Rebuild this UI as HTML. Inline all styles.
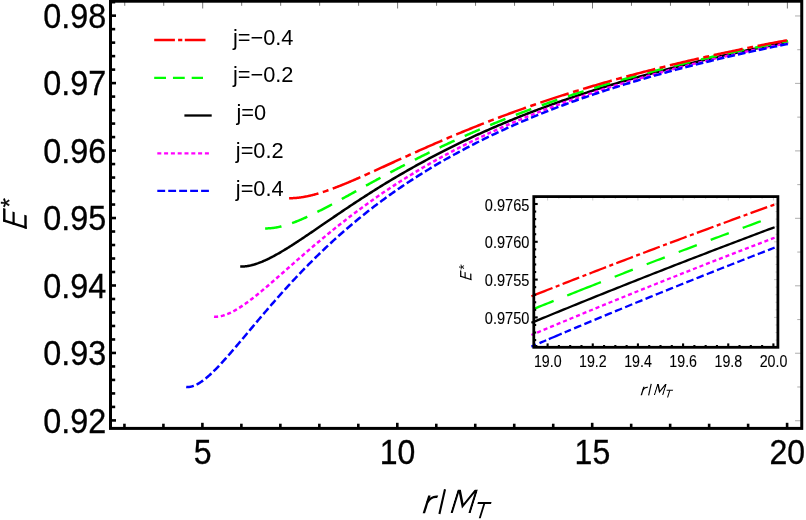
<!DOCTYPE html><html><head><meta charset="utf-8"><style>html,body{margin:0;padding:0;background:#fff}svg{display:block;will-change:transform}text{font-family:"Liberation Sans",sans-serif;fill:#000}</style></head><body>
<svg width="806" height="520" viewBox="0 0 806 520">
<rect width="806" height="520" fill="#fff"/>
<path d="M240.21 266.52 L240.28 266.52 L240.41 266.53 L240.57 266.53 L240.76 266.53 L240.98 266.54 L241.22 266.54 L241.48 266.54 L241.77 266.54 L242.07 266.53 L242.38 266.53 L242.72 266.51 L243.07 266.50 L243.43 266.48 L243.81 266.46 L244.20 266.43 L244.61 266.39 L245.03 266.36 L245.46 266.31 L245.90 266.26 L246.36 266.20 L246.83 266.14 L247.30 266.07 L247.79 265.99 L248.29 265.90 L248.80 265.81 L249.32 265.71 L249.85 265.60 L250.40 265.48 L250.95 265.36 L251.51 265.23 L252.08 265.08 L252.65 264.93 L253.24 264.77 L253.84 264.60 L254.44 264.43 L255.06 264.24 L255.68 264.04 L256.31 263.84 L256.95 263.62 L257.60 263.40 L258.26 263.17 L258.92 262.92 L259.59 262.67 L260.27 262.41 L260.96 262.14 L261.66 261.86 L262.36 261.56 L263.07 261.26 L263.79 260.95 L264.51 260.63 L265.25 260.30 L265.99 259.97 L266.73 259.62 L267.49 259.26 L268.25 258.89 L269.02 258.51 L269.79 258.13 L270.57 257.73 L271.36 257.33 L272.16 256.92 L272.96 256.49 L273.77 256.06 L274.58 255.62 L275.41 255.17 L276.23 254.71 L277.07 254.25 L277.91 253.77 L278.76 253.29 L279.61 252.80 L280.47 252.30 L281.34 251.79 L282.21 251.27 L283.08 250.75 L283.97 250.21 L284.86 249.67 L285.75 249.13 L286.66 248.57 L287.56 248.01 L288.48 247.44 L289.40 246.86 L290.32 246.28 L291.25 245.69 L292.19 245.09 L293.13 244.48 L294.08 243.87 L295.03 243.25 L295.99 242.63 L296.96 242.00 L297.93 241.36 L298.90 240.72 L299.88 240.07 L300.87 239.42 L301.86 238.76 L302.86 238.09 L303.86 237.42 L304.87 236.75 L305.88 236.07 L306.90 235.38 L307.92 234.69 L308.95 233.99 L309.98 233.29 L311.02 232.59 L312.07 231.88 L313.12 231.16 L314.17 230.44 L315.23 229.72 L316.29 228.99 L317.36 228.26 L318.44 227.53 L319.52 226.79 L320.60 226.05 L321.69 225.31 L322.78 224.56 L323.88 223.81 L324.98 223.05 L326.09 222.29 L327.21 221.53 L328.32 220.77 L329.45 220.00 L330.57 219.23 L331.70 218.46 L332.84 217.68 L333.98 216.91 L335.13 216.13 L336.28 215.35 L337.43 214.56 L338.59 213.78 L339.76 212.99 L340.93 212.20 L342.10 211.41 L343.28 210.62 L344.46 209.82 L345.65 209.03 L346.84 208.23 L348.03 207.43 L349.23 206.63 L350.44 205.83 L351.65 205.02 L352.86 204.22 L354.08 203.42 L355.30 202.61 L356.53 201.80 L357.76 201.00 L358.99 200.19 L360.23 199.38 L361.48 198.57 L362.73 197.76 L363.98 196.95 L365.23 196.14 L366.50 195.33 L367.76 194.52 L369.03 193.71 L370.30 192.90 L371.58 192.08 L372.86 191.27 L374.15 190.46 L375.44 189.65 L376.73 188.84 L378.03 188.03 L379.33 187.22 L380.64 186.42 L381.95 185.61 L383.26 184.80 L384.58 184.00 L385.90 183.19 L387.23 182.39 L388.56 181.59 L389.90 180.78 L391.23 179.98 L392.58 179.18 L393.92 178.38 L395.27 177.58 L396.63 176.78 L397.99 175.98 L399.35 175.18 L400.71 174.39 L402.08 173.59 L403.46 172.80 L404.83 172.01 L406.22 171.21 L407.60 170.42 L408.99 169.63 L410.38 168.84 L411.78 168.06 L413.18 167.27 L414.59 166.49 L415.99 165.70 L417.41 164.92 L418.82 164.14 L420.24 163.36 L421.66 162.58 L423.09 161.80 L424.52 161.03 L425.96 160.26 L427.39 159.48 L428.83 158.71 L430.28 157.94 L431.73 157.18 L433.18 156.41 L434.64 155.65 L436.10 154.88 L437.56 154.12 L439.03 153.36 L440.50 152.61 L441.97 151.85 L443.45 151.10 L444.93 150.34 L446.42 149.59 L447.91 148.84 L449.40 148.10 L450.90 147.35 L452.40 146.61 L453.90 145.87 L455.41 145.13 L456.92 144.39 L458.43 143.65 L459.95 142.92 L461.47 142.19 L462.99 141.46 L464.52 140.73 L466.05 140.00 L467.59 139.28 L469.12 138.56 L470.67 137.84 L472.21 137.12 L473.76 136.40 L475.31 135.69 L476.87 134.97 L478.42 134.26 L479.99 133.56 L481.55 132.85 L483.12 132.15 L484.69 131.44 L486.27 130.74 L487.85 130.04 L489.43 129.35 L491.02 128.65 L492.60 127.96 L494.20 127.27 L495.79 126.58 L497.39 125.90 L498.99 125.22 L500.60 124.53 L502.21 123.85 L503.82 123.18 L505.44 122.50 L507.06 121.83 L508.68 121.16 L510.30 120.49 L511.93 119.82 L513.56 119.16 L515.20 118.50 L516.84 117.83 L518.48 117.18 L520.12 116.52 L521.77 115.87 L523.42 115.21 L525.08 114.56 L526.74 113.92 L528.40 113.27 L530.06 112.63 L531.73 111.99 L533.40 111.35 L535.07 110.71 L536.75 110.07 L538.43 109.44 L540.11 108.81 L541.80 108.18 L543.49 107.56 L545.18 106.93 L546.88 106.31 L548.58 105.69 L550.28 105.07 L551.98 104.45 L553.69 103.84 L555.40 103.23 L557.12 102.62 L558.84 102.01 L560.56 101.41 L562.28 100.80 L564.01 100.20 L565.74 99.60 L567.47 99.01 L569.21 98.41 L570.95 97.82 L572.69 97.23 L574.43 96.64 L576.18 96.05 L577.93 95.47 L579.69 94.88 L581.45 94.30 L583.21 93.72 L584.97 93.15 L586.74 92.57 L588.50 92.00 L590.28 91.43 L592.05 90.86 L593.83 90.29 L595.61 89.73 L597.40 89.17 L599.18 88.61 L600.98 88.05 L602.77 87.49 L604.56 86.94 L606.36 86.39 L608.17 85.84 L609.97 85.29 L611.78 84.74 L613.59 84.20 L615.40 83.65 L617.22 83.11 L619.04 82.57 L620.86 82.04 L622.69 81.50 L624.52 80.97 L626.35 80.44 L628.18 79.91 L630.02 79.38 L631.86 78.86 L633.70 78.34 L635.55 77.81 L637.40 77.29 L639.25 76.78 L641.11 76.26 L642.96 75.75 L644.82 75.24 L646.69 74.73 L648.55 74.22 L650.42 73.71 L652.29 73.20 L654.17 72.69 L656.05 72.19 L657.93 71.68 L659.81 71.18 L661.69 70.68 L663.58 70.18 L665.47 69.68 L667.37 69.18 L669.27 68.69 L671.17 68.20 L673.07 67.71 L674.97 67.22 L676.88 66.73 L678.79 66.24 L680.71 65.76 L682.62 65.28 L684.54 64.80 L686.46 64.32 L688.39 63.84 L690.32 63.37 L692.25 62.90 L694.18 62.42 L696.12 61.95 L698.06 61.49 L700.00 61.02 L701.94 60.55 L703.89 60.09 L705.84 59.63 L707.79 59.17 L709.74 58.71 L711.70 58.26 L713.66 57.80 L715.63 57.35 L717.59 56.90 L719.56 56.45 L721.53 56.00 L723.51 55.55 L725.48 55.11 L727.46 54.66 L729.44 54.22 L731.43 53.78 L733.42 53.34 L735.41 52.91 L737.40 52.47 L739.39 52.04 L741.39 51.61 L743.39 51.18 L745.40 50.75 L747.40 50.32 L749.41 49.89 L751.42 49.47 L753.44 49.05 L755.45 48.62 L757.47 48.20 L759.49 47.79 L761.52 47.37 L763.55 46.95 L765.58 46.54 L767.61 46.13 L769.64 45.72 L771.68 45.31 L773.72 44.90 L775.76 44.49 L777.81 44.09 L779.86 43.68 L781.91 43.28 L783.96 42.88 L786.02 42.48 L788.07 42.08" fill="none" stroke="#000000" stroke-width="2.5"/>
<path d="M214.07 316.72 L214.14 316.73 L214.28 316.73 L214.45 316.74 L214.65 316.75 L214.88 316.75 L215.13 316.75 L215.41 316.75 L215.70 316.75 L216.02 316.74 L216.35 316.73 L216.70 316.71 L217.07 316.68 L217.45 316.65 L217.84 316.61 L218.26 316.57 L218.68 316.51 L219.12 316.45 L219.57 316.38 L220.04 316.29 L220.51 316.20 L221.00 316.10 L221.50 315.99 L222.02 315.86 L222.54 315.73 L223.07 315.58 L223.62 315.42 L224.18 315.25 L224.74 315.07 L225.32 314.87 L225.91 314.66 L226.50 314.44 L227.11 314.20 L227.73 313.96 L228.35 313.69 L228.98 313.42 L229.63 313.13 L230.28 312.83 L230.94 312.51 L231.61 312.18 L232.29 311.84 L232.98 311.48 L233.68 311.11 L234.38 310.73 L235.09 310.33 L235.81 309.91 L236.54 309.49 L237.28 309.05 L238.02 308.60 L238.78 308.13 L239.54 307.65 L240.30 307.16 L241.08 306.65 L241.86 306.13 L242.65 305.60 L243.45 305.05 L244.25 304.49 L245.07 303.92 L245.88 303.34 L246.71 302.74 L247.54 302.14 L248.38 301.52 L249.23 300.88 L250.09 300.24 L250.95 299.59 L251.81 298.92 L252.69 298.24 L253.57 297.55 L254.46 296.86 L255.35 296.15 L256.25 295.42 L257.16 294.69 L258.07 293.95 L258.99 293.20 L259.92 292.44 L260.85 291.67 L261.79 290.89 L262.73 290.10 L263.69 289.31 L264.64 288.50 L265.61 287.69 L266.58 286.86 L267.55 286.03 L268.53 285.19 L269.52 284.34 L270.51 283.49 L271.51 282.63 L272.52 281.76 L273.53 280.88 L274.54 280.00 L275.56 279.11 L276.59 278.21 L277.63 277.31 L278.66 276.40 L279.71 275.48 L280.76 274.56 L281.81 273.64 L282.88 272.70 L283.94 271.77 L285.01 270.82 L286.09 269.88 L287.18 268.93 L288.26 267.97 L289.36 267.01 L290.46 266.04 L291.56 265.07 L292.67 264.10 L293.79 263.12 L294.91 262.14 L296.03 261.16 L297.16 260.17 L298.30 259.18 L299.44 258.19 L300.58 257.19 L301.73 256.19 L302.89 255.19 L304.05 254.18 L305.22 253.18 L306.39 252.17 L307.56 251.15 L308.75 250.14 L309.93 249.13 L311.12 248.11 L312.32 247.09 L313.52 246.07 L314.72 245.05 L315.93 244.03 L317.15 243.00 L318.37 241.98 L319.59 240.95 L320.82 239.93 L322.06 238.90 L323.30 237.87 L324.54 236.84 L325.79 235.82 L327.04 234.79 L328.30 233.76 L329.56 232.73 L330.83 231.70 L332.10 230.67 L333.37 229.64 L334.65 228.61 L335.94 227.58 L337.23 226.56 L338.52 225.53 L339.82 224.50 L341.12 223.48 L342.43 222.45 L343.74 221.42 L345.06 220.40 L346.38 219.38 L347.71 218.36 L349.04 217.33 L350.37 216.31 L351.71 215.30 L353.05 214.28 L354.40 213.26 L355.75 212.25 L357.11 211.23 L358.47 210.22 L359.83 209.21 L361.20 208.20 L362.57 207.20 L363.95 206.19 L365.33 205.19 L366.72 204.18 L368.11 203.18 L369.50 202.19 L370.90 201.19 L372.30 200.19 L373.71 199.20 L375.12 198.21 L376.53 197.22 L377.95 196.24 L379.37 195.26 L380.80 194.28 L382.23 193.31 L383.67 192.33 L385.11 191.36 L386.55 190.40 L388.00 189.43 L389.45 188.47 L390.90 187.51 L392.36 186.55 L393.83 185.59 L395.29 184.64 L396.77 183.69 L398.24 182.74 L399.72 181.80 L401.20 180.85 L402.69 179.91 L404.18 178.98 L405.68 178.04 L407.18 177.11 L408.68 176.18 L410.19 175.25 L411.70 174.33 L413.21 173.41 L414.73 172.49 L416.25 171.57 L417.78 170.66 L419.31 169.75 L420.84 168.84 L422.38 167.94 L423.92 167.04 L425.46 166.14 L427.01 165.24 L428.56 164.35 L430.12 163.46 L431.68 162.57 L433.24 161.69 L434.81 160.81 L436.38 159.93 L437.96 159.06 L439.54 158.18 L441.12 157.31 L442.70 156.45 L444.29 155.59 L445.89 154.72 L447.48 153.87 L449.08 153.01 L450.69 152.16 L452.30 151.31 L453.91 150.47 L455.52 149.63 L457.14 148.79 L458.76 147.95 L460.39 147.12 L462.02 146.29 L463.65 145.46 L465.29 144.64 L466.93 143.81 L468.57 143.00 L470.22 142.18 L471.87 141.37 L473.52 140.56 L475.18 139.75 L476.84 138.95 L478.51 138.15 L480.18 137.35 L481.85 136.56 L483.52 135.77 L485.20 134.98 L486.88 134.19 L488.57 133.41 L490.26 132.63 L491.95 131.86 L493.65 131.08 L495.35 130.31 L497.05 129.55 L498.76 128.78 L500.47 128.02 L502.18 127.26 L503.90 126.51 L505.62 125.75 L507.34 125.01 L509.07 124.26 L510.80 123.52 L512.53 122.77 L514.27 122.04 L516.01 121.30 L517.75 120.57 L519.50 119.84 L521.25 119.11 L523.00 118.39 L524.76 117.67 L526.52 116.95 L528.28 116.24 L530.05 115.53 L531.82 114.82 L533.59 114.11 L535.37 113.41 L537.15 112.71 L538.93 112.01 L540.72 111.31 L542.51 110.62 L544.30 109.93 L546.10 109.25 L547.90 108.56 L549.70 107.88 L551.51 107.20 L553.32 106.53 L555.13 105.85 L556.95 105.18 L558.76 104.52 L560.59 103.85 L562.41 103.19 L564.24 102.53 L566.07 101.87 L567.91 101.22 L569.75 100.57 L571.59 99.92 L573.43 99.27 L575.28 98.63 L577.13 97.99 L578.98 97.35 L580.84 96.72 L582.70 96.08 L584.56 95.45 L586.43 94.83 L588.30 94.20 L590.17 93.58 L592.05 92.96 L593.93 92.34 L595.81 91.73 L597.69 91.11 L599.58 90.50 L601.47 89.90 L603.37 89.29 L605.27 88.69 L607.17 88.09 L609.07 87.49 L610.98 86.90 L612.89 86.30 L614.80 85.71 L616.72 85.13 L618.63 84.54 L620.56 83.96 L622.48 83.38 L624.41 82.80 L626.34 82.23 L628.27 81.65 L630.21 81.08 L632.15 80.51 L634.09 79.95 L636.04 79.38 L637.99 78.82 L639.94 78.26 L641.90 77.70 L643.85 77.15 L645.82 76.60 L647.78 76.05 L649.75 75.50 L651.72 74.95 L653.69 74.40 L655.66 73.85 L657.64 73.31 L659.62 72.77 L661.61 72.22 L663.60 71.69 L665.59 71.15 L667.58 70.61 L669.58 70.08 L671.58 69.55 L673.58 69.02 L675.58 68.50 L677.59 67.97 L679.60 67.45 L681.62 66.93 L683.63 66.42 L685.65 65.90 L687.68 65.39 L689.70 64.88 L691.73 64.37 L693.76 63.86 L695.79 63.35 L697.83 62.85 L699.87 62.35 L701.91 61.85 L703.96 61.35 L706.01 60.86 L708.06 60.37 L710.11 59.88 L712.17 59.39 L714.23 58.90 L716.29 58.41 L718.36 57.93 L720.43 57.45 L722.50 56.97 L724.57 56.49 L726.65 56.02 L728.73 55.54 L730.81 55.07 L732.89 54.60 L734.98 54.13 L737.07 53.67 L739.17 53.20 L741.26 52.74 L743.36 52.28 L745.46 51.82 L747.57 51.37 L749.67 50.91 L751.78 50.46 L753.90 50.01 L756.01 49.56 L758.13 49.11 L760.25 48.66 L762.38 48.22 L764.50 47.77 L766.63 47.33 L768.76 46.89 L770.90 46.46 L773.04 46.02 L775.18 45.59 L777.32 45.15 L779.46 44.72 L781.61 44.29 L783.76 43.87 L785.92 43.44 L788.07 43.02" fill="none" stroke="#ff00ff" stroke-width="2.5" stroke-dasharray="4.057 2.705"/>
<path d="M186.20 387.00 L186.27 387.01 L186.41 387.02 L186.59 387.03 L186.80 387.04 L187.04 387.05 L187.31 387.05 L187.60 387.05 L187.91 387.04 L188.24 387.03 L188.59 387.00 L188.95 386.97 L189.34 386.92 L189.74 386.87 L190.15 386.80 L190.58 386.72 L191.03 386.62 L191.49 386.51 L191.96 386.38 L192.45 386.24 L192.95 386.08 L193.46 385.90 L193.99 385.70 L194.53 385.49 L195.08 385.26 L195.64 385.00 L196.21 384.73 L196.79 384.44 L197.39 384.13 L197.99 383.80 L198.61 383.45 L199.23 383.07 L199.87 382.68 L200.51 382.26 L201.17 381.83 L201.83 381.37 L202.51 380.89 L203.19 380.39 L203.89 379.87 L204.59 379.33 L205.30 378.76 L206.02 378.18 L206.75 377.58 L207.49 376.95 L208.24 376.30 L208.99 375.64 L209.76 374.95 L210.53 374.25 L211.31 373.52 L212.10 372.78 L212.90 372.01 L213.70 371.23 L214.51 370.42 L215.34 369.60 L216.16 368.76 L217.00 367.91 L217.84 367.03 L218.70 366.14 L219.55 365.23 L220.42 364.31 L221.29 363.37 L222.18 362.41 L223.06 361.43 L223.96 360.44 L224.86 359.44 L225.77 358.42 L226.69 357.39 L227.61 356.34 L228.54 355.28 L229.48 354.21 L230.43 353.12 L231.38 352.02 L232.33 350.91 L233.30 349.78 L234.27 348.65 L235.25 347.50 L236.23 346.34 L237.22 345.17 L238.22 343.99 L239.22 342.80 L240.23 341.60 L241.25 340.40 L242.27 339.18 L243.30 337.95 L244.34 336.72 L245.38 335.47 L246.43 334.22 L247.48 332.97 L248.54 331.70 L249.60 330.43 L250.68 329.15 L251.75 327.86 L252.84 326.57 L253.93 325.27 L255.02 323.97 L256.12 322.66 L257.23 321.35 L258.34 320.03 L259.46 318.71 L260.59 317.38 L261.72 316.05 L262.85 314.71 L263.99 313.37 L265.14 312.03 L266.29 310.69 L267.45 309.34 L268.61 307.99 L269.78 306.64 L270.96 305.28 L272.14 303.92 L273.32 302.56 L274.51 301.20 L275.71 299.84 L276.91 298.48 L278.12 297.11 L279.33 295.75 L280.55 294.38 L281.77 293.01 L283.00 291.65 L284.23 290.28 L285.47 288.91 L286.71 287.54 L287.96 286.18 L289.21 284.81 L290.47 283.44 L291.74 282.08 L293.01 280.71 L294.28 279.35 L295.56 277.98 L296.84 276.62 L298.13 275.26 L299.43 273.90 L300.72 272.55 L302.03 271.19 L303.34 269.84 L304.65 268.48 L305.97 267.13 L307.29 265.79 L308.62 264.44 L309.95 263.10 L311.29 261.76 L312.64 260.42 L313.98 259.08 L315.33 257.75 L316.69 256.42 L318.05 255.09 L319.42 253.76 L320.79 252.44 L322.17 251.12 L323.55 249.81 L324.93 248.49 L326.32 247.18 L327.72 245.88 L329.11 244.57 L330.52 243.28 L331.93 241.98 L333.34 240.69 L334.76 239.40 L336.18 238.11 L337.60 236.83 L339.03 235.55 L340.47 234.28 L341.91 233.01 L343.35 231.74 L344.80 230.48 L346.25 229.22 L347.71 227.97 L349.17 226.72 L350.64 225.47 L352.11 224.23 L353.58 222.99 L355.06 221.76 L356.55 220.53 L358.03 219.31 L359.53 218.09 L361.02 216.87 L362.52 215.66 L364.03 214.45 L365.54 213.24 L367.05 212.05 L368.57 210.85 L370.09 209.66 L371.62 208.47 L373.15 207.29 L374.68 206.11 L376.22 204.94 L377.76 203.77 L379.31 202.61 L380.86 201.46 L382.42 200.31 L383.98 199.17 L385.54 198.03 L387.11 196.89 L388.68 195.76 L390.25 194.63 L391.83 193.51 L393.42 192.39 L395.01 191.28 L396.60 190.17 L398.19 189.06 L399.79 187.97 L401.40 186.87 L403.01 185.78 L404.62 184.69 L406.23 183.61 L407.85 182.54 L409.48 181.46 L411.10 180.40 L412.74 179.33 L414.37 178.28 L416.01 177.22 L417.66 176.17 L419.30 175.13 L420.95 174.09 L422.61 173.05 L424.27 172.02 L425.93 170.99 L427.60 169.97 L429.27 168.95 L430.94 167.94 L432.62 166.93 L434.30 165.93 L435.99 164.93 L437.68 163.93 L439.37 162.94 L441.07 161.96 L442.77 160.97 L444.48 160.00 L446.18 159.02 L447.90 158.05 L449.61 157.09 L451.33 156.13 L453.06 155.17 L454.78 154.22 L456.51 153.28 L458.25 152.33 L459.99 151.39 L461.73 150.46 L463.47 149.53 L465.22 148.61 L466.98 147.68 L468.73 146.77 L470.49 145.85 L472.26 144.95 L474.03 144.04 L475.80 143.14 L477.57 142.24 L479.35 141.35 L481.13 140.46 L482.92 139.58 L484.71 138.70 L486.50 137.83 L488.30 136.95 L490.10 136.09 L491.90 135.22 L493.71 134.36 L495.52 133.51 L497.33 132.66 L499.15 131.81 L500.97 130.97 L502.80 130.13 L504.62 129.29 L506.46 128.46 L508.29 127.63 L510.13 126.81 L511.97 125.99 L513.82 125.17 L515.67 124.36 L517.52 123.55 L519.38 122.74 L521.24 121.94 L523.10 121.14 L524.96 120.35 L526.83 119.56 L528.71 118.78 L530.59 117.99 L532.47 117.21 L534.35 116.44 L536.24 115.67 L538.13 114.90 L540.02 114.13 L541.92 113.37 L543.82 112.62 L545.72 111.86 L547.63 111.11 L549.54 110.37 L551.45 109.62 L553.37 108.88 L555.29 108.15 L557.22 107.41 L559.14 106.68 L561.07 105.96 L563.01 105.24 L564.95 104.52 L566.89 103.80 L568.83 103.09 L570.78 102.38 L572.73 101.67 L574.68 100.97 L576.64 100.27 L578.60 99.58 L580.56 98.88 L582.53 98.19 L584.50 97.51 L586.47 96.82 L588.45 96.15 L590.43 95.47 L592.41 94.79 L594.40 94.12 L596.39 93.46 L598.38 92.79 L600.38 92.13 L602.38 91.47 L604.38 90.82 L606.38 90.17 L608.39 89.52 L610.41 88.87 L612.42 88.23 L614.44 87.59 L616.46 86.95 L618.49 86.32 L620.51 85.69 L622.54 85.06 L624.58 84.43 L626.62 83.81 L628.66 83.19 L630.70 82.58 L632.75 81.96 L634.80 81.35 L636.85 80.74 L638.91 80.14 L640.97 79.54 L643.03 78.94 L645.09 78.34 L647.16 77.75 L649.23 77.15 L651.31 76.56 L653.39 75.97 L655.47 75.38 L657.55 74.79 L659.64 74.21 L661.73 73.62 L663.82 73.04 L665.92 72.47 L668.02 71.89 L670.12 71.32 L672.23 70.75 L674.34 70.18 L676.45 69.62 L678.56 69.06 L680.68 68.50 L682.80 67.94 L684.92 67.39 L687.05 66.84 L689.18 66.29 L691.31 65.74 L693.45 65.20 L695.59 64.65 L697.73 64.11 L699.87 63.58 L702.02 63.04 L704.17 62.51 L706.33 61.98 L708.48 61.45 L710.64 60.93 L712.81 60.40 L714.97 59.88 L717.14 59.36 L719.31 58.85 L721.49 58.33 L723.66 57.82 L725.84 57.31 L728.03 56.80 L730.21 56.30 L732.40 55.79 L734.59 55.29 L736.79 54.80 L738.99 54.30 L741.19 53.80 L743.39 53.31 L745.60 52.82 L747.81 52.33 L750.02 51.85 L752.24 51.36 L754.46 50.88 L756.68 50.40 L758.90 49.93 L761.13 49.45 L763.36 48.98 L765.59 48.51 L767.83 48.04 L770.06 47.57 L772.31 47.10 L774.55 46.64 L776.80 46.18 L779.05 45.72 L781.30 45.26 L783.55 44.81 L785.81 44.35 L788.07 43.90" fill="none" stroke="#0000ff" stroke-width="2.5" stroke-dasharray="7.75 3.075"/>
<path d="M265.12 228.38 L265.19 228.38 L265.31 228.38 L265.46 228.38 L265.65 228.39 L265.85 228.39 L266.08 228.39 L266.34 228.39 L266.61 228.39 L266.89 228.39 L267.20 228.38 L267.51 228.38 L267.85 228.37 L268.20 228.35 L268.56 228.34 L268.93 228.32 L269.32 228.30 L269.72 228.27 L270.13 228.24 L270.55 228.21 L270.99 228.17 L271.43 228.13 L271.89 228.08 L272.36 228.03 L272.84 227.98 L273.32 227.91 L273.82 227.85 L274.33 227.77 L274.84 227.70 L275.37 227.61 L275.90 227.52 L276.45 227.43 L277.00 227.33 L277.56 227.22 L278.13 227.10 L278.71 226.98 L279.29 226.86 L279.89 226.72 L280.49 226.58 L281.10 226.44 L281.72 226.28 L282.35 226.13 L282.98 225.96 L283.62 225.79 L284.27 225.60 L284.93 225.42 L285.59 225.22 L286.26 225.02 L286.94 224.81 L287.63 224.60 L288.32 224.38 L289.02 224.15 L289.72 223.91 L290.44 223.67 L291.16 223.42 L291.88 223.16 L292.62 222.90 L293.36 222.63 L294.10 222.35 L294.86 222.06 L295.62 221.77 L296.38 221.47 L297.15 221.17 L297.93 220.86 L298.72 220.54 L299.51 220.21 L300.30 219.88 L301.10 219.54 L301.91 219.19 L302.73 218.84 L303.55 218.48 L304.38 218.12 L305.21 217.74 L306.05 217.37 L306.89 216.98 L307.74 216.59 L308.59 216.19 L309.45 215.79 L310.32 215.38 L311.19 214.97 L312.07 214.55 L312.95 214.12 L313.84 213.69 L314.74 213.25 L315.64 212.81 L316.54 212.36 L317.45 211.90 L318.37 211.44 L319.29 210.98 L320.21 210.51 L321.14 210.03 L322.08 209.55 L323.02 209.07 L323.97 208.58 L324.92 208.08 L325.88 207.58 L326.84 207.08 L327.81 206.57 L328.78 206.05 L329.75 205.53 L330.74 205.01 L331.72 204.48 L332.71 203.95 L333.71 203.42 L334.71 202.88 L335.72 202.33 L336.73 201.79 L337.74 201.23 L338.76 200.68 L339.79 200.12 L340.82 199.56 L341.85 198.99 L342.89 198.42 L343.94 197.85 L344.99 197.27 L346.04 196.69 L347.10 196.11 L348.16 195.53 L349.23 194.94 L350.30 194.35 L351.37 193.75 L352.45 193.15 L353.54 192.55 L354.63 191.95 L355.72 191.35 L356.82 190.74 L357.92 190.13 L359.03 189.52 L360.14 188.90 L361.26 188.28 L362.38 187.66 L363.50 187.04 L364.63 186.42 L365.76 185.79 L366.90 185.17 L368.04 184.54 L369.19 183.91 L370.34 183.27 L371.49 182.64 L372.65 182.00 L373.81 181.37 L374.98 180.73 L376.15 180.09 L377.32 179.45 L378.50 178.80 L379.69 178.16 L380.87 177.52 L382.07 176.88 L383.26 176.24 L384.46 175.59 L385.66 174.94 L386.87 174.30 L388.08 173.65 L389.30 173.00 L390.52 172.35 L391.74 171.70 L392.97 171.05 L394.20 170.40 L395.43 169.75 L396.67 169.09 L397.92 168.44 L399.16 167.79 L400.41 167.13 L401.67 166.48 L402.93 165.82 L404.19 165.17 L405.46 164.51 L406.73 163.86 L408.00 163.20 L409.28 162.55 L410.56 161.89 L411.84 161.24 L413.13 160.58 L414.43 159.92 L415.72 159.27 L417.02 158.61 L418.33 157.96 L419.63 157.30 L420.94 156.65 L422.26 155.99 L423.58 155.34 L424.90 154.68 L426.23 154.03 L427.56 153.37 L428.89 152.72 L430.23 152.07 L431.57 151.42 L432.91 150.76 L434.26 150.11 L435.61 149.46 L436.96 148.81 L438.32 148.16 L439.68 147.51 L441.05 146.86 L442.42 146.22 L443.79 145.57 L445.17 144.92 L446.55 144.28 L447.93 143.63 L449.32 142.99 L450.71 142.35 L452.10 141.70 L453.50 141.06 L454.90 140.42 L456.30 139.78 L457.71 139.14 L459.12 138.50 L460.54 137.87 L461.95 137.23 L463.38 136.60 L464.80 135.96 L466.23 135.33 L467.66 134.70 L469.09 134.07 L470.53 133.44 L471.97 132.81 L473.42 132.18 L474.87 131.55 L476.32 130.93 L477.77 130.30 L479.23 129.68 L480.69 129.06 L482.16 128.44 L483.63 127.82 L485.10 127.20 L486.57 126.58 L488.05 125.97 L489.53 125.35 L491.02 124.74 L492.50 124.13 L493.99 123.52 L495.49 122.91 L496.99 122.30 L498.49 121.69 L499.99 121.09 L501.50 120.48 L503.01 119.88 L504.52 119.28 L506.04 118.68 L507.56 118.08 L509.08 117.48 L510.61 116.89 L512.14 116.29 L513.67 115.70 L515.21 115.11 L516.75 114.52 L518.29 113.93 L519.83 113.34 L521.38 112.76 L522.93 112.17 L524.49 111.59 L526.04 111.01 L527.61 110.43 L529.17 109.85 L530.74 109.27 L532.31 108.70 L533.88 108.12 L535.46 107.55 L537.04 106.98 L538.62 106.41 L540.20 105.84 L541.79 105.28 L543.38 104.71 L544.98 104.15 L546.58 103.59 L548.18 103.03 L549.78 102.47 L551.39 101.91 L553.00 101.36 L554.61 100.80 L556.23 100.25 L557.84 99.70 L559.47 99.15 L561.09 98.60 L562.72 98.05 L564.35 97.51 L565.98 96.96 L567.62 96.42 L569.26 95.88 L570.90 95.34 L572.55 94.81 L574.20 94.27 L575.85 93.74 L577.50 93.20 L579.16 92.67 L580.82 92.14 L582.48 91.62 L584.15 91.09 L585.82 90.56 L587.49 90.04 L589.16 89.52 L590.84 89.00 L592.52 88.48 L594.20 87.96 L595.89 87.45 L597.58 86.94 L599.27 86.42 L600.97 85.91 L602.66 85.40 L604.36 84.90 L606.07 84.39 L607.77 83.88 L609.48 83.38 L611.19 82.88 L612.91 82.38 L614.63 81.88 L616.35 81.39 L618.07 80.89 L619.80 80.40 L621.52 79.90 L623.26 79.41 L624.99 78.92 L626.73 78.44 L628.47 77.95 L630.21 77.47 L631.95 76.98 L633.70 76.50 L635.45 76.02 L637.21 75.54 L638.96 75.07 L640.72 74.59 L642.49 74.12 L644.25 73.65 L646.02 73.17 L647.79 72.71 L649.56 72.24 L651.34 71.77 L653.12 71.30 L654.90 70.83 L656.68 70.36 L658.47 69.90 L660.26 69.43 L662.05 68.97 L663.84 68.51 L665.64 68.04 L667.44 67.59 L669.24 67.13 L671.05 66.67 L672.86 66.22 L674.67 65.76 L676.48 65.31 L678.30 64.86 L680.12 64.41 L681.94 63.97 L683.76 63.52 L685.59 63.08 L687.42 62.63 L689.25 62.19 L691.08 61.75 L692.92 61.31 L694.76 60.88 L696.60 60.44 L698.45 60.01 L700.30 59.57 L702.15 59.14 L704.00 58.71 L705.86 58.28 L707.72 57.85 L709.58 57.43 L711.44 57.00 L713.31 56.58 L715.17 56.16 L717.05 55.74 L718.92 55.32 L720.80 54.90 L722.68 54.48 L724.56 54.07 L726.44 53.65 L728.33 53.24 L730.22 52.83 L732.11 52.42 L734.00 52.01 L735.90 51.60 L737.80 51.20 L739.70 50.79 L741.61 50.39 L743.51 49.99 L745.42 49.59 L747.34 49.19 L749.25 48.79 L751.17 48.39 L753.09 48.00 L755.01 47.61 L756.94 47.21 L758.86 46.82 L760.79 46.43 L762.73 46.04 L764.66 45.65 L766.60 45.27 L768.54 44.88 L770.48 44.50 L772.43 44.12 L774.37 43.73 L776.32 43.35 L778.28 42.98 L780.23 42.60 L782.19 42.22 L784.15 41.85 L786.11 41.47 L788.07 41.10" fill="none" stroke="#00ff00" stroke-width="2.5" stroke-dasharray="16.52 11.12"/>
<path d="M289.10 198.17 L289.16 198.17 L289.28 198.17 L289.43 198.17 L289.60 198.17 L289.80 198.18 L290.02 198.18 L290.26 198.18 L290.52 198.18 L290.79 198.18 L291.08 198.17 L291.39 198.17 L291.70 198.16 L292.04 198.15 L292.38 198.14 L292.74 198.13 L293.11 198.12 L293.49 198.10 L293.88 198.08 L294.29 198.06 L294.70 198.03 L295.13 198.00 L295.56 197.97 L296.01 197.93 L296.46 197.89 L296.93 197.85 L297.40 197.81 L297.89 197.75 L298.38 197.70 L298.88 197.64 L299.39 197.58 L299.91 197.51 L300.43 197.44 L300.97 197.37 L301.51 197.29 L302.07 197.20 L302.62 197.12 L303.19 197.02 L303.77 196.92 L304.35 196.82 L304.94 196.71 L305.54 196.60 L306.14 196.48 L306.76 196.36 L307.37 196.23 L308.00 196.10 L308.63 195.96 L309.27 195.82 L309.92 195.67 L310.58 195.52 L311.24 195.36 L311.90 195.19 L312.58 195.02 L313.26 194.85 L313.95 194.67 L314.64 194.48 L315.34 194.29 L316.04 194.10 L316.76 193.90 L317.47 193.69 L318.20 193.48 L318.93 193.26 L319.67 193.04 L320.41 192.81 L321.16 192.58 L321.91 192.34 L322.67 192.10 L323.44 191.85 L324.21 191.60 L324.99 191.34 L325.77 191.08 L326.56 190.81 L327.35 190.53 L328.15 190.25 L328.96 189.97 L329.77 189.68 L330.58 189.39 L331.40 189.09 L332.23 188.79 L333.06 188.48 L333.90 188.16 L334.74 187.85 L335.59 187.52 L336.44 187.20 L337.30 186.87 L338.16 186.53 L339.03 186.19 L339.91 185.84 L340.78 185.49 L341.67 185.14 L342.56 184.78 L343.45 184.42 L344.35 184.05 L345.25 183.68 L346.16 183.30 L347.07 182.92 L347.99 182.54 L348.91 182.15 L349.84 181.76 L350.77 181.36 L351.71 180.97 L352.65 180.56 L353.60 180.16 L354.55 179.74 L355.50 179.33 L356.46 178.91 L357.43 178.49 L358.40 178.07 L359.37 177.64 L360.35 177.21 L361.33 176.77 L362.32 176.33 L363.31 175.89 L364.30 175.45 L365.31 175.00 L366.31 174.55 L367.32 174.10 L368.33 173.64 L369.35 173.18 L370.37 172.72 L371.40 172.25 L372.43 171.79 L373.47 171.32 L374.51 170.84 L375.55 170.37 L376.60 169.89 L377.65 169.41 L378.71 168.93 L379.77 168.45 L380.83 167.96 L381.90 167.48 L382.97 166.99 L384.05 166.50 L385.13 166.00 L386.21 165.51 L387.30 165.01 L388.40 164.51 L389.49 164.01 L390.59 163.51 L391.70 163.01 L392.81 162.50 L393.92 161.99 L395.04 161.48 L396.16 160.97 L397.29 160.46 L398.41 159.94 L399.55 159.43 L400.68 158.91 L401.82 158.39 L402.97 157.87 L404.12 157.35 L405.27 156.83 L406.42 156.30 L407.58 155.78 L408.75 155.25 L409.92 154.72 L411.09 154.20 L412.26 153.67 L413.44 153.14 L414.62 152.60 L415.81 152.07 L417.00 151.54 L418.19 151.00 L419.39 150.47 L420.59 149.93 L421.79 149.40 L423.00 148.86 L424.21 148.32 L425.43 147.78 L426.65 147.24 L427.87 146.70 L429.10 146.16 L430.33 145.62 L431.56 145.08 L432.80 144.54 L434.04 144.00 L435.28 143.46 L436.53 142.91 L437.78 142.37 L439.03 141.83 L440.29 141.28 L441.55 140.74 L442.82 140.20 L444.09 139.65 L445.36 139.11 L446.64 138.56 L447.92 138.02 L449.20 137.47 L450.48 136.93 L451.77 136.38 L453.07 135.84 L454.36 135.29 L455.66 134.75 L456.96 134.21 L458.27 133.66 L459.58 133.12 L460.89 132.57 L462.21 132.03 L463.53 131.49 L464.85 130.94 L466.18 130.40 L467.51 129.86 L468.84 129.31 L470.18 128.77 L471.52 128.23 L472.86 127.69 L474.21 127.15 L475.56 126.61 L476.91 126.07 L478.27 125.53 L479.62 124.99 L480.99 124.45 L482.35 123.91 L483.72 123.37 L485.09 122.83 L486.47 122.30 L487.85 121.76 L489.23 121.22 L490.61 120.69 L492.00 120.15 L493.39 119.62 L494.79 119.09 L496.19 118.55 L497.59 118.02 L498.99 117.49 L500.40 116.96 L501.81 116.43 L503.22 115.90 L504.64 115.37 L506.06 114.84 L507.48 114.31 L508.91 113.79 L510.33 113.26 L511.77 112.74 L513.20 112.21 L514.64 111.69 L516.08 111.17 L517.52 110.65 L518.97 110.13 L520.42 109.61 L521.88 109.09 L523.33 108.57 L524.79 108.05 L526.25 107.54 L527.72 107.02 L529.19 106.51 L530.66 105.99 L532.13 105.48 L533.61 104.97 L535.09 104.46 L536.57 103.95 L538.06 103.44 L539.55 102.93 L541.04 102.42 L542.54 101.92 L544.04 101.41 L545.54 100.91 L547.04 100.41 L548.55 99.90 L550.06 99.40 L551.57 98.90 L553.09 98.41 L554.60 97.91 L556.13 97.41 L557.65 96.92 L559.18 96.42 L560.71 95.93 L562.24 95.43 L563.78 94.94 L565.32 94.45 L566.86 93.96 L568.40 93.48 L569.95 92.99 L571.50 92.50 L573.05 92.02 L574.61 91.53 L576.17 91.05 L577.73 90.57 L579.29 90.09 L580.86 89.61 L582.43 89.13 L584.00 88.66 L585.58 88.18 L587.16 87.71 L588.74 87.23 L590.32 86.76 L591.91 86.29 L593.50 85.82 L595.09 85.35 L596.69 84.88 L598.28 84.42 L599.88 83.95 L601.49 83.49 L603.09 83.02 L604.70 82.56 L606.31 82.10 L607.93 81.64 L609.55 81.18 L611.17 80.72 L612.79 80.27 L614.41 79.81 L616.04 79.36 L617.67 78.91 L619.31 78.45 L620.94 78.00 L622.58 77.56 L624.22 77.11 L625.87 76.66 L627.51 76.22 L629.16 75.77 L630.81 75.33 L632.47 74.89 L634.13 74.44 L635.79 74.01 L637.45 73.57 L639.11 73.13 L640.78 72.69 L642.45 72.26 L644.13 71.82 L645.80 71.39 L647.48 70.96 L649.16 70.53 L650.85 70.10 L652.53 69.67 L654.22 69.24 L655.91 68.80 L657.61 68.37 L659.30 67.95 L661.00 67.52 L662.71 67.09 L664.41 66.67 L666.12 66.24 L667.83 65.82 L669.54 65.40 L671.25 64.98 L672.97 64.56 L674.69 64.14 L676.42 63.72 L678.14 63.31 L679.87 62.89 L681.60 62.48 L683.33 62.07 L685.07 61.65 L686.80 61.24 L688.55 60.84 L690.29 60.43 L692.03 60.02 L693.78 59.62 L695.53 59.21 L697.29 58.81 L699.04 58.41 L700.80 58.00 L702.56 57.61 L704.32 57.21 L706.09 56.81 L707.86 56.41 L709.63 56.02 L711.40 55.62 L713.18 55.23 L714.95 54.84 L716.73 54.45 L718.52 54.06 L720.30 53.67 L722.09 53.28 L723.88 52.90 L725.67 52.51 L727.47 52.13 L729.27 51.74 L731.07 51.36 L732.87 50.98 L734.68 50.60 L736.48 50.22 L738.29 49.85 L740.11 49.47 L741.92 49.09 L743.74 48.72 L745.56 48.35 L747.38 47.98 L749.20 47.60 L751.03 47.23 L752.86 46.87 L754.69 46.50 L756.53 46.13 L758.36 45.77 L760.20 45.40 L762.04 45.04 L763.89 44.68 L765.73 44.32 L767.58 43.96 L769.43 43.60 L771.29 43.24 L773.14 42.88 L775.00 42.53 L776.86 42.17 L778.72 41.82 L780.59 41.46 L782.46 41.11 L784.33 40.76 L786.20 40.41 L788.07 40.06" fill="none" stroke="#ff0000" stroke-width="2.5" stroke-dasharray="29.83 4.575 5.97 4.575"/>
<line x1="124.74" y1="1.20" x2="124.74" y2="5.80" stroke="#555" stroke-width="0.8"/>
<line x1="163.72" y1="1.20" x2="163.72" y2="5.80" stroke="#555" stroke-width="0.8"/>
<line x1="202.70" y1="1.20" x2="202.70" y2="8.50" stroke="#555" stroke-width="0.8"/>
<line x1="241.68" y1="1.20" x2="241.68" y2="5.80" stroke="#555" stroke-width="0.8"/>
<line x1="280.66" y1="1.20" x2="280.66" y2="5.80" stroke="#555" stroke-width="0.8"/>
<line x1="319.64" y1="1.20" x2="319.64" y2="5.80" stroke="#555" stroke-width="0.8"/>
<line x1="358.62" y1="1.20" x2="358.62" y2="5.80" stroke="#555" stroke-width="0.8"/>
<line x1="397.60" y1="1.20" x2="397.60" y2="8.50" stroke="#555" stroke-width="0.8"/>
<line x1="436.58" y1="1.20" x2="436.58" y2="5.80" stroke="#555" stroke-width="0.8"/>
<line x1="475.56" y1="1.20" x2="475.56" y2="5.80" stroke="#555" stroke-width="0.8"/>
<line x1="514.54" y1="1.20" x2="514.54" y2="5.80" stroke="#555" stroke-width="0.8"/>
<line x1="553.52" y1="1.20" x2="553.52" y2="5.80" stroke="#555" stroke-width="0.8"/>
<line x1="592.50" y1="1.20" x2="592.50" y2="8.50" stroke="#555" stroke-width="0.8"/>
<line x1="631.48" y1="1.20" x2="631.48" y2="5.80" stroke="#555" stroke-width="0.8"/>
<line x1="670.46" y1="1.20" x2="670.46" y2="5.80" stroke="#555" stroke-width="0.8"/>
<line x1="709.44" y1="1.20" x2="709.44" y2="5.80" stroke="#555" stroke-width="0.8"/>
<line x1="748.42" y1="1.20" x2="748.42" y2="5.80" stroke="#555" stroke-width="0.8"/>
<line x1="787.40" y1="1.20" x2="787.40" y2="8.50" stroke="#555" stroke-width="0.8"/>
<line x1="795.05" y1="420.71" x2="801.75" y2="420.71" stroke="#b4b4b4" stroke-width="1.1"/>
<line x1="797.25" y1="386.98" x2="801.75" y2="386.98" stroke="#b4b4b4" stroke-width="1.1"/>
<line x1="795.05" y1="353.25" x2="801.75" y2="353.25" stroke="#b4b4b4" stroke-width="1.1"/>
<line x1="797.25" y1="319.52" x2="801.75" y2="319.52" stroke="#b4b4b4" stroke-width="1.1"/>
<line x1="795.05" y1="285.79" x2="801.75" y2="285.79" stroke="#b4b4b4" stroke-width="1.1"/>
<line x1="797.25" y1="252.06" x2="801.75" y2="252.06" stroke="#b4b4b4" stroke-width="1.1"/>
<line x1="795.05" y1="218.33" x2="801.75" y2="218.33" stroke="#b4b4b4" stroke-width="1.1"/>
<line x1="797.25" y1="184.60" x2="801.75" y2="184.60" stroke="#b4b4b4" stroke-width="1.1"/>
<line x1="795.05" y1="150.87" x2="801.75" y2="150.87" stroke="#b4b4b4" stroke-width="1.1"/>
<line x1="797.25" y1="117.14" x2="801.75" y2="117.14" stroke="#b4b4b4" stroke-width="1.1"/>
<line x1="795.05" y1="83.41" x2="801.75" y2="83.41" stroke="#b4b4b4" stroke-width="1.1"/>
<line x1="797.25" y1="49.68" x2="801.75" y2="49.68" stroke="#b4b4b4" stroke-width="1.1"/>
<line x1="795.05" y1="15.95" x2="801.75" y2="15.95" stroke="#b4b4b4" stroke-width="1.1"/>
<line x1="124.44" y1="428.40" x2="124.44" y2="423.70" stroke="#000" stroke-width="2.6"/>
<line x1="163.42" y1="428.40" x2="163.42" y2="423.70" stroke="#000" stroke-width="2.6"/>
<line x1="202.40" y1="428.40" x2="202.40" y2="422.80" stroke="#000" stroke-width="2.6"/>
<line x1="241.38" y1="428.40" x2="241.38" y2="423.70" stroke="#000" stroke-width="2.6"/>
<line x1="280.36" y1="428.40" x2="280.36" y2="423.70" stroke="#000" stroke-width="2.6"/>
<line x1="319.34" y1="428.40" x2="319.34" y2="423.70" stroke="#000" stroke-width="2.6"/>
<line x1="358.32" y1="428.40" x2="358.32" y2="423.70" stroke="#000" stroke-width="2.6"/>
<line x1="397.30" y1="428.40" x2="397.30" y2="422.80" stroke="#000" stroke-width="2.6"/>
<line x1="436.28" y1="428.40" x2="436.28" y2="423.70" stroke="#000" stroke-width="2.6"/>
<line x1="475.26" y1="428.40" x2="475.26" y2="423.70" stroke="#000" stroke-width="2.6"/>
<line x1="514.24" y1="428.40" x2="514.24" y2="423.70" stroke="#000" stroke-width="2.6"/>
<line x1="553.22" y1="428.40" x2="553.22" y2="423.70" stroke="#000" stroke-width="2.6"/>
<line x1="592.20" y1="428.40" x2="592.20" y2="422.80" stroke="#000" stroke-width="2.6"/>
<line x1="631.18" y1="428.40" x2="631.18" y2="423.70" stroke="#000" stroke-width="2.6"/>
<line x1="670.16" y1="428.40" x2="670.16" y2="423.70" stroke="#000" stroke-width="2.6"/>
<line x1="709.14" y1="428.40" x2="709.14" y2="423.70" stroke="#000" stroke-width="2.6"/>
<line x1="748.12" y1="428.40" x2="748.12" y2="423.70" stroke="#000" stroke-width="2.6"/>
<line x1="787.10" y1="428.40" x2="787.10" y2="422.80" stroke="#000" stroke-width="2.6"/>
<line x1="110.50" y1="420.41" x2="116.00" y2="420.41" stroke="#000" stroke-width="2.6"/>
<line x1="110.50" y1="406.92" x2="115.20" y2="406.92" stroke="#000" stroke-width="2.6"/>
<line x1="110.50" y1="393.43" x2="115.20" y2="393.43" stroke="#000" stroke-width="2.6"/>
<line x1="110.50" y1="379.93" x2="115.20" y2="379.93" stroke="#000" stroke-width="2.6"/>
<line x1="110.50" y1="366.44" x2="115.20" y2="366.44" stroke="#000" stroke-width="2.6"/>
<line x1="110.50" y1="352.95" x2="116.00" y2="352.95" stroke="#000" stroke-width="2.6"/>
<line x1="110.50" y1="339.46" x2="115.20" y2="339.46" stroke="#000" stroke-width="2.6"/>
<line x1="110.50" y1="325.97" x2="115.20" y2="325.97" stroke="#000" stroke-width="2.6"/>
<line x1="110.50" y1="312.47" x2="115.20" y2="312.47" stroke="#000" stroke-width="2.6"/>
<line x1="110.50" y1="298.98" x2="115.20" y2="298.98" stroke="#000" stroke-width="2.6"/>
<line x1="110.50" y1="285.49" x2="116.00" y2="285.49" stroke="#000" stroke-width="2.6"/>
<line x1="110.50" y1="272.00" x2="115.20" y2="272.00" stroke="#000" stroke-width="2.6"/>
<line x1="110.50" y1="258.51" x2="115.20" y2="258.51" stroke="#000" stroke-width="2.6"/>
<line x1="110.50" y1="245.01" x2="115.20" y2="245.01" stroke="#000" stroke-width="2.6"/>
<line x1="110.50" y1="231.52" x2="115.20" y2="231.52" stroke="#000" stroke-width="2.6"/>
<line x1="110.50" y1="218.03" x2="116.00" y2="218.03" stroke="#000" stroke-width="2.6"/>
<line x1="110.50" y1="204.54" x2="115.20" y2="204.54" stroke="#000" stroke-width="2.6"/>
<line x1="110.50" y1="191.05" x2="115.20" y2="191.05" stroke="#000" stroke-width="2.6"/>
<line x1="110.50" y1="177.55" x2="115.20" y2="177.55" stroke="#000" stroke-width="2.6"/>
<line x1="110.50" y1="164.06" x2="115.20" y2="164.06" stroke="#000" stroke-width="2.6"/>
<line x1="110.50" y1="150.57" x2="116.00" y2="150.57" stroke="#000" stroke-width="2.6"/>
<line x1="110.50" y1="137.08" x2="115.20" y2="137.08" stroke="#000" stroke-width="2.6"/>
<line x1="110.50" y1="123.59" x2="115.20" y2="123.59" stroke="#000" stroke-width="2.6"/>
<line x1="110.50" y1="110.09" x2="115.20" y2="110.09" stroke="#000" stroke-width="2.6"/>
<line x1="110.50" y1="96.60" x2="115.20" y2="96.60" stroke="#000" stroke-width="2.6"/>
<line x1="110.50" y1="83.11" x2="116.00" y2="83.11" stroke="#000" stroke-width="2.6"/>
<line x1="110.50" y1="69.62" x2="115.20" y2="69.62" stroke="#000" stroke-width="2.6"/>
<line x1="110.50" y1="56.13" x2="115.20" y2="56.13" stroke="#000" stroke-width="2.6"/>
<line x1="110.50" y1="42.63" x2="115.20" y2="42.63" stroke="#000" stroke-width="2.6"/>
<line x1="110.50" y1="29.14" x2="115.20" y2="29.14" stroke="#000" stroke-width="2.6"/>
<line x1="110.50" y1="15.65" x2="116.00" y2="15.65" stroke="#000" stroke-width="2.6"/>
<line x1="110.50" y1="2.16" x2="115.20" y2="2.16" stroke="#000" stroke-width="2.6"/>
<rect x="110.50" y="1.20" width="691.25" height="427.20" fill="none" stroke="#000" stroke-width="3.00"/>
<text transform="translate(106.3,432.61) scale(0.92,1)" font-size="35.2" text-anchor="end" stroke="#000" stroke-width="0.3">0.92</text>
<text transform="translate(106.3,365.15) scale(0.92,1)" font-size="35.2" text-anchor="end" stroke="#000" stroke-width="0.3">0.93</text>
<text transform="translate(106.3,297.69) scale(0.92,1)" font-size="35.2" text-anchor="end" stroke="#000" stroke-width="0.3">0.94</text>
<text transform="translate(106.3,230.23) scale(0.92,1)" font-size="35.2" text-anchor="end" stroke="#000" stroke-width="0.3">0.95</text>
<text transform="translate(106.3,162.77) scale(0.92,1)" font-size="35.2" text-anchor="end" stroke="#000" stroke-width="0.3">0.96</text>
<text transform="translate(106.3,95.31) scale(0.92,1)" font-size="35.2" text-anchor="end" stroke="#000" stroke-width="0.3">0.97</text>
<text transform="translate(106.3,27.85) scale(0.92,1)" font-size="35.2" text-anchor="end" stroke="#000" stroke-width="0.3">0.98</text>
<text transform="translate(202.60,464.2) scale(0.91,1)" font-size="35.2" text-anchor="middle" stroke="#000" stroke-width="0.3">5</text>
<text transform="translate(397.50,464.2) scale(0.91,1)" font-size="35.2" text-anchor="middle" stroke="#000" stroke-width="0.3">10</text>
<text transform="translate(592.40,464.2) scale(0.91,1)" font-size="35.2" text-anchor="middle" stroke="#000" stroke-width="0.3">15</text>
<text transform="translate(787.30,464.2) scale(0.91,1)" font-size="35.2" text-anchor="middle" stroke="#000" stroke-width="0.3">20</text>
<g transform="translate(422.80,512.90) scale(1.000)" fill="none" stroke="#000" stroke-width="2.40" stroke-linejoin="miter" stroke-miterlimit="10"><g transform="skewX(-17.2)"><path d="M1.2 0.4 L1.2 -17.5"/><path d="M1.3 -10.5 C2.3 -14.3 5.2 -16.7 9.9 -16.1" stroke-width="2.50"/><clipPath id="mc1000"><rect x="27.60" y="-23.20" width="20.40" height="23.20"/></clipPath><path clip-path="url(#mc1000)" d="M28.80 0 L28.80 -24.70 L37.80 -6.96 L46.80 -24.70 L46.80 0" stroke-width="2.30"/><path d="M58.6 5.3 L58.6 -10.0" stroke-width="1.90"/><path d="M51.8 -9.9 L65.4 -9.9" stroke-width="1.80"/></g><path d="M16.6 1.0 L22.2 -23.7" stroke-width="2.10"/></g>
<g transform="translate(26.70,228.90) rotate(-90) scale(1.000) skewX(-17.5)" fill="none" stroke="#000" stroke-width="2.40"><path d="M1.2 0 L1.2 -23.60"/><path d="M0 -1.2 L13.4 -1.2"/><path d="M0 -13.10 L12.8 -13.10" stroke-width="2.20"/><path d="M0 -22.40 L13.4 -22.40"/></g>
<g transform="translate(17.8,207.4) rotate(-90)"><text x="0" y="0" font-size="24" stroke="#000" stroke-width="0.3">*</text></g>
<line x1="154.20" y1="40.00" x2="205.60" y2="40.00" stroke="#ff0000" stroke-width="2.3" stroke-dasharray="20.7 3.2 4.2 2.5"/>
<text x="232.90" y="45.20" font-size="21.8">j=−0.4</text>
<line x1="154.20" y1="77.90" x2="203.00" y2="77.90" stroke="#00ff00" stroke-width="2.3" stroke-dasharray="11.8 6.95"/>
<text x="232.90" y="82.30" font-size="21.8">j=−0.2</text>
<line x1="184.40" y1="115.50" x2="211.70" y2="115.50" stroke="#000000" stroke-width="2.3"/>
<text x="236.40" y="120.00" font-size="21.8">j=0</text>
<line x1="157.30" y1="153.30" x2="208.90" y2="153.30" stroke="#ff00ff" stroke-width="2.3" stroke-dasharray="4 2.8"/>
<text x="235.80" y="157.50" font-size="21.8">j=0.2</text>
<line x1="157.30" y1="190.90" x2="208.90" y2="190.90" stroke="#0000ff" stroke-width="2.3" stroke-dasharray="7.85 3.1"/>
<text x="235.80" y="195.50" font-size="21.8">j=0.4</text>
<rect x="533.80" y="196.60" width="244.10" height="150.70" fill="#fff"/>
<path d="M531.40 346.57 L533.70 345.59 L536.00 344.60 M539.50 343.11 L541.73 342.15 L543.97 341.20 L546.20 340.25 M548.80 339.14 L551.38 338.05 L553.96 336.95 L556.54 335.86 L559.12 334.76 L561.70 333.67 M564.70 332.40 L566.77 331.53 L568.83 330.66 L570.90 329.79 M574.15 328.42 L576.52 327.42 L578.88 326.43 L581.25 325.44 M584.35 324.14 L586.72 323.15 L589.08 322.16 L591.45 321.17 M594.55 319.87 L596.92 318.89 L599.28 317.90 L601.65 316.92 M604.75 315.63 L607.12 314.65 L609.48 313.67 L611.85 312.69 M614.95 311.41 L617.32 310.43 L619.68 309.45 L622.05 308.48 M625.15 307.20 L627.52 306.23 L629.88 305.26 L632.25 304.28 M635.35 303.01 L637.72 302.04 L640.08 301.08 L642.45 300.11 M645.55 298.84 L647.92 297.88 L650.28 296.92 L652.65 295.95 M655.75 294.69 L658.12 293.73 L660.48 292.77 L662.85 291.82 M665.95 290.56 L668.32 289.61 L670.68 288.65 L673.05 287.70 M676.15 286.45 L678.52 285.50 L680.88 284.54 L683.25 283.59 M686.35 282.35 L688.72 281.40 L691.08 280.46 L693.45 279.51 M696.55 278.27 L698.92 277.33 L701.28 276.39 L703.65 275.44 M706.75 274.21 L709.12 273.27 L711.48 272.33 L713.85 271.40 M716.95 270.17 L719.32 269.23 L721.68 268.30 L724.05 267.36 M727.15 266.14 L729.52 265.21 L731.88 264.28 L734.25 263.35 M737.35 262.13 L739.72 261.21 L742.08 260.28 L744.45 259.35 M747.55 258.14 L749.92 257.22 L752.28 256.30 L754.65 255.38 M757.75 254.17 L760.12 253.25 L762.48 252.33 L764.85 251.41 M767.95 250.21 L770.17 249.36 L772.38 248.50 L774.60 247.64" fill="none" stroke="#0000ff" stroke-width="2.3"/>
<path d="M531.40 335.02 L532.90 334.39 L534.40 333.76 M537.10 332.63 L539.00 331.83 L540.89 331.03 M543.59 329.90 L545.49 329.11 L547.39 328.31 M550.09 327.18 L551.99 326.39 L553.88 325.60 M556.58 324.47 L558.48 323.68 L560.38 322.89 M563.08 321.77 L564.98 320.98 L566.88 320.19 M569.57 319.07 L571.47 318.29 L573.37 317.50 M576.07 316.39 L577.97 315.60 L579.87 314.82 M582.56 313.71 L584.46 312.92 L586.36 312.14 M589.06 311.03 L590.96 310.25 L592.86 309.47 M595.55 308.37 L597.45 307.59 L599.35 306.81 M602.05 305.71 L603.95 304.93 L605.85 304.16 M608.54 303.06 L610.44 302.28 L612.34 301.51 M615.04 300.42 L616.94 299.64 L618.84 298.87 M621.53 297.78 L623.43 297.01 L625.33 296.24 M628.03 295.15 L629.93 294.38 L631.83 293.62 M634.52 292.53 L636.42 291.76 L638.32 291.00 M641.02 289.92 L642.92 289.15 L644.82 288.39 M647.51 287.31 L649.41 286.55 L651.31 285.79 M654.01 284.71 L655.91 283.95 L657.81 283.19 M660.50 282.12 L662.40 281.36 L664.30 280.60 M667.00 279.53 L668.90 278.78 L670.80 278.02 M673.49 276.95 L675.39 276.20 L677.29 275.45 M679.99 274.38 L681.89 273.63 L683.79 272.88 M686.48 271.82 L688.38 271.07 L690.28 270.32 M692.98 269.26 L694.88 268.51 L696.78 267.77 M699.47 266.71 L701.37 265.96 L703.27 265.22 M705.97 264.16 L707.87 263.42 L709.77 262.68 M712.46 261.63 L714.36 260.89 L716.26 260.15 M718.96 259.10 L720.86 258.36 L722.76 257.62 M725.45 256.58 L727.35 255.84 L729.25 255.10 M731.95 254.06 L733.85 253.33 L735.75 252.59 M738.44 251.55 L740.34 250.82 L742.24 250.09 M744.94 249.05 L746.84 248.32 L748.74 247.59 M751.43 246.55 L753.33 245.82 L755.23 245.10 M757.93 244.06 L759.83 243.34 L761.73 242.61 M764.42 241.58 L766.32 240.86 L768.22 240.13 M770.92 239.11 L772.76 238.41 L774.60 237.71" fill="none" stroke="#ff00ff" stroke-width="2.3"/>
<path d="M531.40 322.80 L534.37 321.57 L537.33 320.35 L540.30 319.13 L543.26 317.91 L546.23 316.69 L549.20 315.47 L552.16 314.25 L555.13 313.04 L558.09 311.83 L561.06 310.61 L564.02 309.40 L566.99 308.20 L569.96 306.99 L572.92 305.78 L575.89 304.58 L578.85 303.38 L581.82 302.18 L584.79 300.98 L587.75 299.78 L590.72 298.58 L593.68 297.39 L596.65 296.19 L599.61 295.00 L602.58 293.81 L605.55 292.62 L608.51 291.43 L611.48 290.25 L614.44 289.06 L617.41 287.88 L620.38 286.70 L623.34 285.52 L626.31 284.34 L629.27 283.16 L632.24 281.99 L635.20 280.81 L638.17 279.64 L641.14 278.47 L644.10 277.30 L647.07 276.13 L650.03 274.96 L653.00 273.80 L655.97 272.63 L658.93 271.47 L661.90 270.31 L664.86 269.15 L667.83 267.99 L670.80 266.83 L673.76 265.68 L676.73 264.52 L679.69 263.37 L682.66 262.22 L685.62 261.07 L688.59 259.92 L691.56 258.77 L694.52 257.63 L697.49 256.48 L700.45 255.34 L703.42 254.20 L706.39 253.06 L709.35 251.92 L712.32 250.78 L715.28 249.64 L718.25 248.51 L721.21 247.38 L724.18 246.24 L727.15 245.11 L730.11 243.98 L733.08 242.86 L736.04 241.73 L739.01 240.60 L741.98 239.48 L744.94 238.36 L747.91 237.24 L750.87 236.12 L753.84 235.00 L756.80 233.88 L759.77 232.77 L762.74 231.65 L765.70 230.54 L768.67 229.43 L771.63 228.32 L774.60 227.21" fill="none" stroke="#000000" stroke-width="2.3"/>
<path d="M533.60 309.00 L536.46 307.84 L539.31 306.69 L542.17 305.54 L545.03 304.38 L547.89 303.23 L550.74 302.09 L553.60 300.94 M567.20 295.50 L570.01 294.38 L572.82 293.26 L575.62 292.14 L578.43 291.03 L581.24 289.91 L584.05 288.80 L586.86 287.69 L589.67 286.57 L592.48 285.47 L595.28 284.36 L598.09 283.25 L600.90 282.14 M614.70 276.73 L617.29 275.72 L619.87 274.71 L622.46 273.70 L625.04 272.69 L627.63 271.68 L630.21 270.68 L632.80 269.67 M646.70 264.29 L649.29 263.29 L651.87 262.29 L654.46 261.30 L657.04 260.30 L659.63 259.31 L662.21 258.32 L664.80 257.32 M678.70 252.01 L681.29 251.03 L683.87 250.04 L686.46 249.06 L689.04 248.08 L691.63 247.09 L694.21 246.11 L696.80 245.14 M710.70 239.89 L713.29 238.92 L715.87 237.95 L718.46 236.97 L721.04 236.01 L723.63 235.04 L726.21 234.07 L728.80 233.10 M742.70 227.92 L745.29 226.96 L747.87 226.00 L750.46 225.05 L753.04 224.09 L755.63 223.13 L758.21 222.18 L760.80 221.22" fill="none" stroke="#00ff00" stroke-width="2.3"/>
<path d="M531.40 296.28 L534.04 295.24 L536.67 294.19 L539.31 293.15 L541.95 292.11 L544.59 291.07 L547.23 290.03 L549.86 289.00 L552.50 287.96 M555.70 286.71 L557.60 285.96 L559.50 285.22 M562.60 284.00 L565.37 282.92 L568.13 281.84 L570.90 280.76 L573.67 279.69 L576.43 278.61 L579.20 277.53 M582.50 276.25 L584.40 275.52 L586.30 274.78 M589.45 273.56 L592.22 272.49 L594.98 271.42 L597.75 270.36 L600.52 269.29 L603.28 268.23 L606.05 267.16 M609.35 265.90 L611.25 265.17 L613.15 264.44 M616.30 263.23 L619.07 262.17 L621.83 261.12 L624.60 260.06 L627.37 259.01 L630.13 257.95 L632.90 256.90 M636.20 255.65 L638.10 254.93 L640.00 254.20 M643.15 253.01 L645.92 251.96 L648.68 250.92 L651.45 249.87 L654.22 248.83 L656.98 247.79 L659.75 246.75 M663.05 245.51 L664.95 244.79 L666.85 244.08 M670.00 242.90 L672.77 241.86 L675.53 240.83 L678.30 239.80 L681.07 238.76 L683.83 237.73 L686.60 236.70 M689.90 235.47 L691.80 234.77 L693.70 234.06 M696.85 232.89 L699.62 231.87 L702.38 230.85 L705.15 229.82 L707.92 228.80 L710.68 227.78 L713.45 226.76 M716.75 225.55 L718.65 224.85 L720.55 224.15 M723.70 222.99 L726.47 221.98 L729.23 220.97 L732.00 219.95 L734.77 218.94 L737.53 217.93 L740.30 216.92 M743.60 215.72 L745.50 215.03 L747.40 214.34 M750.55 213.20 L753.32 212.19 L756.08 211.19 L758.85 210.19 L761.62 209.19 L764.38 208.19 L767.15 207.19 M770.45 206.00 L772.35 205.32 L774.25 204.63" fill="none" stroke="#ff0000" stroke-width="2.3"/>
<line x1="533.80" y1="340.08" x2="536.20" y2="340.08" stroke="#000" stroke-width="2.1"/>
<line x1="775.50" y1="340.08" x2="777.90" y2="340.08" stroke="#999" stroke-width="0.5"/>
<line x1="533.80" y1="332.52" x2="536.20" y2="332.52" stroke="#000" stroke-width="2.1"/>
<line x1="775.50" y1="332.52" x2="777.90" y2="332.52" stroke="#999" stroke-width="0.5"/>
<line x1="533.80" y1="324.96" x2="536.20" y2="324.96" stroke="#000" stroke-width="2.1"/>
<line x1="775.50" y1="324.96" x2="777.90" y2="324.96" stroke="#999" stroke-width="0.5"/>
<line x1="533.80" y1="317.40" x2="537.70" y2="317.40" stroke="#000" stroke-width="2.1"/>
<line x1="774.00" y1="317.40" x2="777.90" y2="317.40" stroke="#999" stroke-width="0.5"/>
<line x1="533.80" y1="309.84" x2="536.20" y2="309.84" stroke="#000" stroke-width="2.1"/>
<line x1="775.50" y1="309.84" x2="777.90" y2="309.84" stroke="#999" stroke-width="0.5"/>
<line x1="533.80" y1="302.28" x2="536.20" y2="302.28" stroke="#000" stroke-width="2.1"/>
<line x1="775.50" y1="302.28" x2="777.90" y2="302.28" stroke="#999" stroke-width="0.5"/>
<line x1="533.80" y1="294.72" x2="536.20" y2="294.72" stroke="#000" stroke-width="2.1"/>
<line x1="775.50" y1="294.72" x2="777.90" y2="294.72" stroke="#999" stroke-width="0.5"/>
<line x1="533.80" y1="287.16" x2="536.20" y2="287.16" stroke="#000" stroke-width="2.1"/>
<line x1="775.50" y1="287.16" x2="777.90" y2="287.16" stroke="#999" stroke-width="0.5"/>
<line x1="533.80" y1="279.60" x2="537.70" y2="279.60" stroke="#000" stroke-width="2.1"/>
<line x1="774.00" y1="279.60" x2="777.90" y2="279.60" stroke="#999" stroke-width="0.5"/>
<line x1="533.80" y1="272.04" x2="536.20" y2="272.04" stroke="#000" stroke-width="2.1"/>
<line x1="775.50" y1="272.04" x2="777.90" y2="272.04" stroke="#999" stroke-width="0.5"/>
<line x1="533.80" y1="264.48" x2="536.20" y2="264.48" stroke="#000" stroke-width="2.1"/>
<line x1="775.50" y1="264.48" x2="777.90" y2="264.48" stroke="#999" stroke-width="0.5"/>
<line x1="533.80" y1="256.92" x2="536.20" y2="256.92" stroke="#000" stroke-width="2.1"/>
<line x1="775.50" y1="256.92" x2="777.90" y2="256.92" stroke="#999" stroke-width="0.5"/>
<line x1="533.80" y1="249.36" x2="536.20" y2="249.36" stroke="#000" stroke-width="2.1"/>
<line x1="775.50" y1="249.36" x2="777.90" y2="249.36" stroke="#999" stroke-width="0.5"/>
<line x1="533.80" y1="241.80" x2="537.70" y2="241.80" stroke="#000" stroke-width="2.1"/>
<line x1="774.00" y1="241.80" x2="777.90" y2="241.80" stroke="#999" stroke-width="0.5"/>
<line x1="533.80" y1="234.24" x2="536.20" y2="234.24" stroke="#000" stroke-width="2.1"/>
<line x1="775.50" y1="234.24" x2="777.90" y2="234.24" stroke="#999" stroke-width="0.5"/>
<line x1="533.80" y1="226.68" x2="536.20" y2="226.68" stroke="#000" stroke-width="2.1"/>
<line x1="775.50" y1="226.68" x2="777.90" y2="226.68" stroke="#999" stroke-width="0.5"/>
<line x1="533.80" y1="219.12" x2="536.20" y2="219.12" stroke="#000" stroke-width="2.1"/>
<line x1="775.50" y1="219.12" x2="777.90" y2="219.12" stroke="#999" stroke-width="0.5"/>
<line x1="533.80" y1="211.56" x2="536.20" y2="211.56" stroke="#000" stroke-width="2.1"/>
<line x1="775.50" y1="211.56" x2="777.90" y2="211.56" stroke="#999" stroke-width="0.5"/>
<line x1="533.80" y1="204.00" x2="537.70" y2="204.00" stroke="#000" stroke-width="2.1"/>
<line x1="774.00" y1="204.00" x2="777.90" y2="204.00" stroke="#999" stroke-width="0.5"/>
<line x1="536.31" y1="347.30" x2="536.31" y2="345.00" stroke="#000" stroke-width="2.1"/>
<line x1="536.31" y1="196.60" x2="536.31" y2="198.90" stroke="#999" stroke-width="0.5"/>
<line x1="547.60" y1="347.30" x2="547.60" y2="343.40" stroke="#000" stroke-width="2.1"/>
<line x1="547.60" y1="196.60" x2="547.60" y2="200.50" stroke="#999" stroke-width="0.5"/>
<line x1="558.89" y1="347.30" x2="558.89" y2="345.00" stroke="#000" stroke-width="2.1"/>
<line x1="558.89" y1="196.60" x2="558.89" y2="198.90" stroke="#999" stroke-width="0.5"/>
<line x1="570.18" y1="347.30" x2="570.18" y2="345.00" stroke="#000" stroke-width="2.1"/>
<line x1="570.18" y1="196.60" x2="570.18" y2="198.90" stroke="#999" stroke-width="0.5"/>
<line x1="581.47" y1="347.30" x2="581.47" y2="345.00" stroke="#000" stroke-width="2.1"/>
<line x1="581.47" y1="196.60" x2="581.47" y2="198.90" stroke="#999" stroke-width="0.5"/>
<line x1="592.76" y1="347.30" x2="592.76" y2="343.40" stroke="#000" stroke-width="2.1"/>
<line x1="592.76" y1="196.60" x2="592.76" y2="200.50" stroke="#999" stroke-width="0.5"/>
<line x1="604.05" y1="347.30" x2="604.05" y2="345.00" stroke="#000" stroke-width="2.1"/>
<line x1="604.05" y1="196.60" x2="604.05" y2="198.90" stroke="#999" stroke-width="0.5"/>
<line x1="615.34" y1="347.30" x2="615.34" y2="345.00" stroke="#000" stroke-width="2.1"/>
<line x1="615.34" y1="196.60" x2="615.34" y2="198.90" stroke="#999" stroke-width="0.5"/>
<line x1="626.63" y1="347.30" x2="626.63" y2="345.00" stroke="#000" stroke-width="2.1"/>
<line x1="626.63" y1="196.60" x2="626.63" y2="198.90" stroke="#999" stroke-width="0.5"/>
<line x1="637.92" y1="347.30" x2="637.92" y2="343.40" stroke="#000" stroke-width="2.1"/>
<line x1="637.92" y1="196.60" x2="637.92" y2="200.50" stroke="#999" stroke-width="0.5"/>
<line x1="649.21" y1="347.30" x2="649.21" y2="345.00" stroke="#000" stroke-width="2.1"/>
<line x1="649.21" y1="196.60" x2="649.21" y2="198.90" stroke="#999" stroke-width="0.5"/>
<line x1="660.50" y1="347.30" x2="660.50" y2="345.00" stroke="#000" stroke-width="2.1"/>
<line x1="660.50" y1="196.60" x2="660.50" y2="198.90" stroke="#999" stroke-width="0.5"/>
<line x1="671.79" y1="347.30" x2="671.79" y2="345.00" stroke="#000" stroke-width="2.1"/>
<line x1="671.79" y1="196.60" x2="671.79" y2="198.90" stroke="#999" stroke-width="0.5"/>
<line x1="683.08" y1="347.30" x2="683.08" y2="343.40" stroke="#000" stroke-width="2.1"/>
<line x1="683.08" y1="196.60" x2="683.08" y2="200.50" stroke="#999" stroke-width="0.5"/>
<line x1="694.37" y1="347.30" x2="694.37" y2="345.00" stroke="#000" stroke-width="2.1"/>
<line x1="694.37" y1="196.60" x2="694.37" y2="198.90" stroke="#999" stroke-width="0.5"/>
<line x1="705.66" y1="347.30" x2="705.66" y2="345.00" stroke="#000" stroke-width="2.1"/>
<line x1="705.66" y1="196.60" x2="705.66" y2="198.90" stroke="#999" stroke-width="0.5"/>
<line x1="716.95" y1="347.30" x2="716.95" y2="345.00" stroke="#000" stroke-width="2.1"/>
<line x1="716.95" y1="196.60" x2="716.95" y2="198.90" stroke="#999" stroke-width="0.5"/>
<line x1="728.24" y1="347.30" x2="728.24" y2="343.40" stroke="#000" stroke-width="2.1"/>
<line x1="728.24" y1="196.60" x2="728.24" y2="200.50" stroke="#999" stroke-width="0.5"/>
<line x1="739.53" y1="347.30" x2="739.53" y2="345.00" stroke="#000" stroke-width="2.1"/>
<line x1="739.53" y1="196.60" x2="739.53" y2="198.90" stroke="#999" stroke-width="0.5"/>
<line x1="750.82" y1="347.30" x2="750.82" y2="345.00" stroke="#000" stroke-width="2.1"/>
<line x1="750.82" y1="196.60" x2="750.82" y2="198.90" stroke="#999" stroke-width="0.5"/>
<line x1="762.11" y1="347.30" x2="762.11" y2="345.00" stroke="#000" stroke-width="2.1"/>
<line x1="762.11" y1="196.60" x2="762.11" y2="198.90" stroke="#999" stroke-width="0.5"/>
<line x1="773.40" y1="347.30" x2="773.40" y2="343.40" stroke="#000" stroke-width="2.1"/>
<line x1="773.40" y1="196.60" x2="773.40" y2="200.50" stroke="#999" stroke-width="0.5"/>
<rect x="533.80" y="196.60" width="244.10" height="150.70" fill="none" stroke="#000" stroke-width="2.80"/>
<text transform="translate(529.4,323.90) scale(0.9,1)" font-size="16.2" text-anchor="end" stroke="#000" stroke-width="0.1">0.9750</text>
<text transform="translate(529.4,286.10) scale(0.9,1)" font-size="16.2" text-anchor="end" stroke="#000" stroke-width="0.1">0.9755</text>
<text transform="translate(529.4,248.30) scale(0.9,1)" font-size="16.2" text-anchor="end" stroke="#000" stroke-width="0.1">0.9760</text>
<text transform="translate(529.4,210.50) scale(0.9,1)" font-size="16.2" text-anchor="end" stroke="#000" stroke-width="0.1">0.9765</text>
<text transform="translate(547.70,366.5) scale(0.9,1)" font-size="15.8" text-anchor="middle" stroke="#000" stroke-width="0.1">19.0</text>
<text transform="translate(592.86,366.5) scale(0.9,1)" font-size="15.8" text-anchor="middle" stroke="#000" stroke-width="0.1">19.2</text>
<text transform="translate(638.02,366.5) scale(0.9,1)" font-size="15.8" text-anchor="middle" stroke="#000" stroke-width="0.1">19.4</text>
<text transform="translate(683.18,366.5) scale(0.9,1)" font-size="15.8" text-anchor="middle" stroke="#000" stroke-width="0.1">19.6</text>
<text transform="translate(728.34,366.5) scale(0.9,1)" font-size="15.8" text-anchor="middle" stroke="#000" stroke-width="0.1">19.8</text>
<text transform="translate(773.50,366.5) scale(0.9,1)" font-size="15.8" text-anchor="middle" stroke="#000" stroke-width="0.1">20.0</text>
<g transform="translate(640.80,395.00) scale(0.470)" fill="none" stroke="#000" stroke-width="2.83" stroke-linejoin="miter" stroke-miterlimit="10"><g transform="skewX(-17.2)"><path d="M1.2 0.4 L1.2 -17.5"/><path d="M1.3 -10.5 C2.3 -14.3 5.2 -16.7 9.9 -16.1" stroke-width="2.95"/><clipPath id="mc470"><rect x="27.60" y="-23.20" width="20.40" height="23.20"/></clipPath><path clip-path="url(#mc470)" d="M28.80 0 L28.80 -24.70 L37.80 -6.96 L46.80 -24.70 L46.80 0" stroke-width="2.71"/><path d="M58.6 5.3 L58.6 -10.0" stroke-width="2.24"/><path d="M51.8 -9.9 L65.4 -9.9" stroke-width="2.12"/></g><path d="M16.6 1.0 L22.2 -23.7" stroke-width="2.48"/></g>
<g transform="translate(471.35,280.20) rotate(-90) scale(0.475) skewX(-17.5)" fill="none" stroke="#000" stroke-width="2.64"><path d="M1.2 0 L1.2 -23.60"/><path d="M0 -1.2 L13.4 -1.2"/><path d="M0 -13.10 L12.8 -13.10" stroke-width="2.42"/><path d="M0 -22.40 L13.4 -22.40"/></g>
<g transform="translate(468.5,269.7) rotate(-90)"><text x="0" y="0" font-size="14">*</text></g>
</svg></body></html>
